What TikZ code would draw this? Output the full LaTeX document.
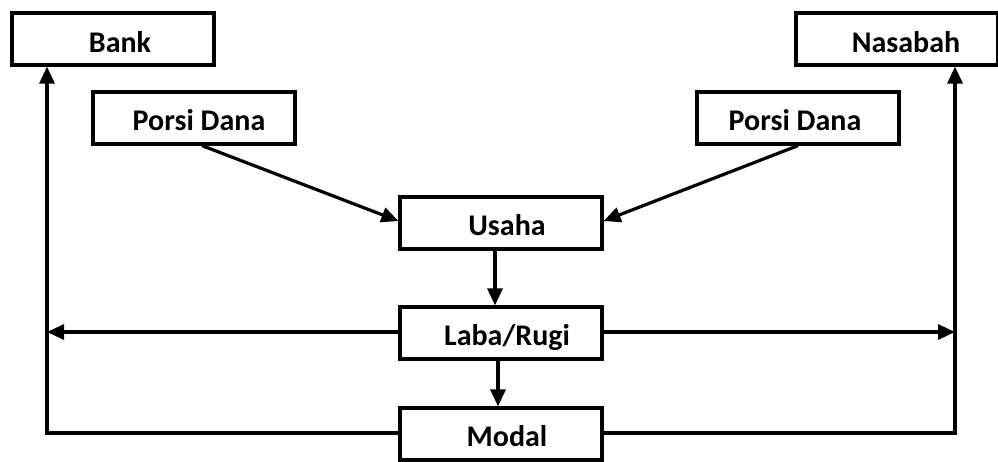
\documentclass[tikz,border=0pt]{standalone}
\usepackage{fontspec}
\setmainfont{Carlito}
\usetikzlibrary{arrows.meta}
\begin{document}
\begin{tikzpicture}[x=1pt,y=-1pt,
  box/.style={draw, line width=3.2pt, minimum width=202pt, minimum height=52pt, inner sep=0pt},
  lbl/.style={anchor=base, inner sep=0pt, font=\fontsize{30}{32}\selectfont\bfseries},
  link/.style={line width=3.2pt, -{Triangle[length=17pt,width=15pt]}}]
\useasboundingbox (0,0) rectangle (998,461);
\clip (0,0) rectangle (998,461);
% boxes
\node[box] (bank) at (113,39) {};
\node[box] (nasabah) at (897,39) {};
\node[box] (pdl) at (194,118) {};
\node[box] (pdr) at (798,118) {};
\node[box] (usaha) at (501,223) {};
\node[box] (laba) at (501,333) {};
\node[box] (modal) at (501,434) {};
% labels, set on a common baseline inside each box
\node[lbl] (bankt) at ([xshift=7pt,yshift=-13pt]bank.center) {Bank};
\node[lbl] (nasabaht) at ([xshift=9pt,yshift=-13pt]nasabah.center) {Nasabah};
\node[lbl] (pdlt) at ([xshift=5pt,yshift=-12pt]pdl.center) {Porsi Dana};
\node[lbl] (pdrt) at ([xshift=-3pt,yshift=-12pt]pdr.center) {Porsi Dana};
\node[lbl] (usahat) at ([xshift=6pt,yshift=-12pt]usaha.center) {Usaha};
\node[lbl] (labat) at ([xshift=6pt,yshift=-12pt]laba.center) {Laba/Rugi};
\node[lbl] (modalt) at ([xshift=6pt,yshift=-12pt]modal.center) {Modal};
% side rails
\coordinate (lrail) at (47,332);
\coordinate (rrail) at (955,332);
\coordinate (lbot) at (47,433);
\coordinate (rbot) at (955,433);
% connectors
\draw[link] ([xshift=8pt]pdl.south) -- ([yshift=2pt]usaha.west);
\draw[link] (pdr.south) -- ([yshift=2pt]usaha.east);
\draw[link] ([xshift=-6pt]usaha.south) -- ([xshift=-6pt]laba.north);
\draw[link] ([xshift=-3pt]laba.south) -- ([xshift=-3pt]modal.north);
\draw[link] (laba.west |- lrail) -- (lrail);
\draw[link] (laba.east |- rrail) -- (rrail);
\draw[link] (modal.west |- lbot) -- (lbot) -- (lbot |- bank.south);
\draw[link] (modal.east |- rbot) -- (rbot) -- (rbot |- nasabah.south);
\end{tikzpicture}
\end{document}
